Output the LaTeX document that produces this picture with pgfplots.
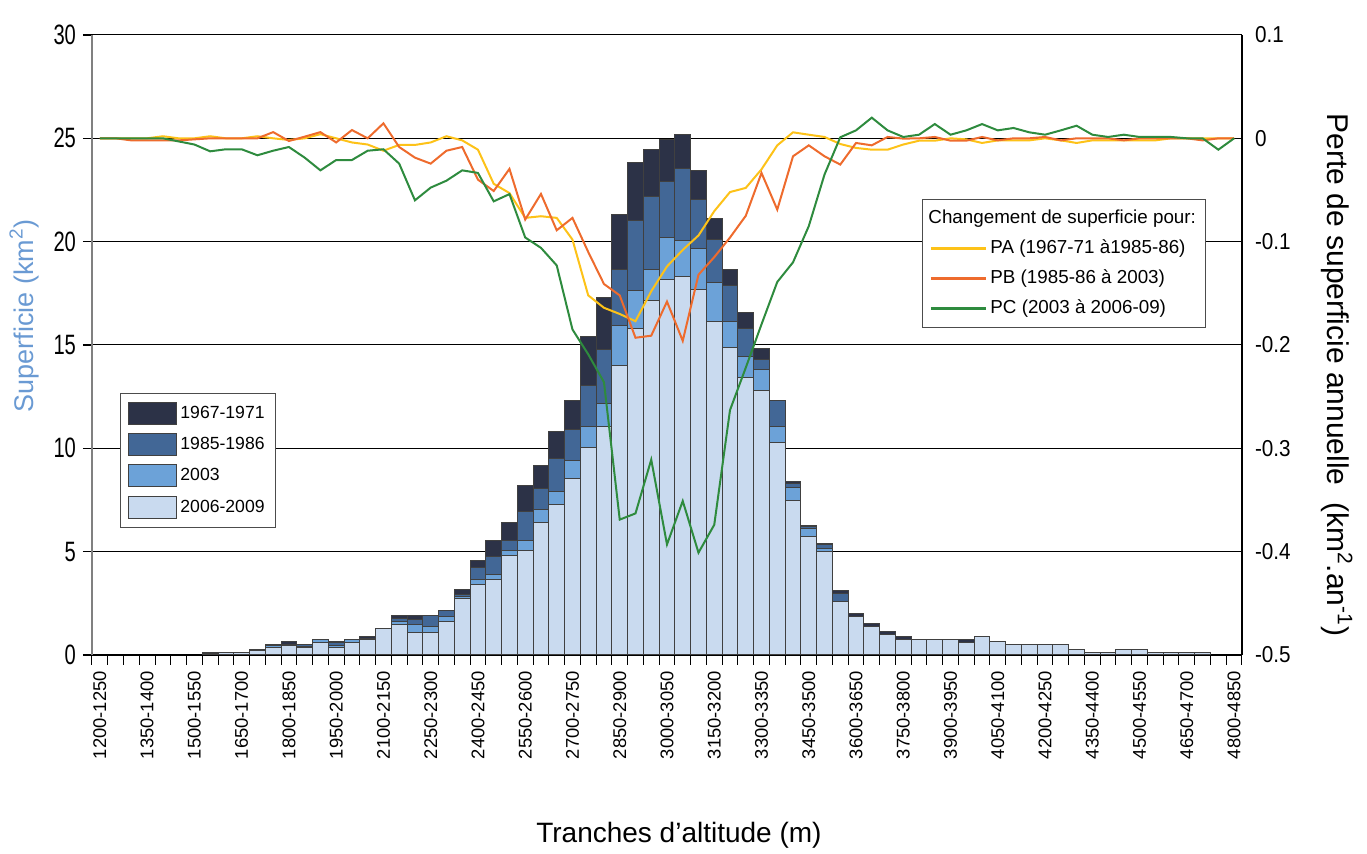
\documentclass[border=0pt]{standalone}
\usepackage{pgfplots}
\pgfplotsset{compat=1.18}
\usepackage{pgfplotstable}
\usepackage{fontspec}
\setmainfont{Liberation Sans}
\newfontfamily\condfont[FakeStretch=0.72]{Liberation Sans}
\newfontfamily\rcondfont[FakeStretch=0.9]{Liberation Sans}
\definecolor{cA}{HTML}{2C3247}
\definecolor{cB}{HTML}{426796}
\definecolor{cC}{HTML}{6CA2D8}
\definecolor{cD}{HTML}{C9DAEF}
\definecolor{lPA}{HTML}{FDC218}
\definecolor{lPB}{HTML}{EE6B2D}
\definecolor{lPC}{HTML}{2E8B3E}
\definecolor{labblue}{HTML}{6A9AD3}

\pgfplotstableread{
x a b c d
7 0.12 0.12 0.07 0.05
8 0.12 0.12 0.12 0.10
9 0.12 0.12 0.12 0.12
10 0.27 0.27 0.27 0.23
11 0.50 0.50 0.45 0.35
12 0.63 0.50 0.48 0.48
13 0.52 0.52 0.40 0.35
14 0.77 0.77 0.77 0.61
15 0.65 0.60 0.48 0.37
16 0.77 0.77 0.77 0.61
17 0.89 0.79 0.74 0.74
18 1.27 1.27 1.27 1.27
19 1.89 1.77 1.61 1.48
20 1.89 1.73 1.48 1.11
21 1.89 1.89 1.39 1.11
22 2.16 2.16 1.87 1.61
23 3.15 2.95 2.85 2.74
24 4.55 4.25 3.65 3.40
25 5.55 4.77 3.90 3.65
26 6.43 5.53 5.05 4.80
27 8.19 6.92 5.55 5.05
28 9.18 8.05 7.05 6.43
29 10.80 9.53 7.92 7.30
30 12.30 10.92 9.42 8.55
31 15.43 13.03 11.05 10.05
32 17.30 14.78 12.16 11.05
33 21.32 18.66 15.92 14.03
34 23.82 21.04 17.66 15.80
35 24.45 22.18 18.67 17.17
36 24.95 22.93 20.19 18.17
37 25.20 23.53 20.05 18.30
38 23.43 22.05 19.67 17.69
39 21.10 20.10 18.00 16.15
40 18.67 17.90 16.14 14.90
41 16.56 15.80 14.43 13.43
42 14.82 14.30 13.79 12.79
43 12.30 12.30 11.05 10.30
44 8.40 8.30 8.10 7.48
45 6.26 6.20 6.10 5.74
46 5.40 5.35 5.13 5.03
47 3.13 2.98 2.61 2.61
48 2.00 1.85 1.85 1.85
49 1.52 1.37 1.37 1.37
50 1.13 1.00 1.00 1.00
51 0.89 0.74 0.74 0.74
52 0.74 0.74 0.74 0.74
53 0.74 0.74 0.74 0.74
54 0.74 0.74 0.74 0.74
55 0.76 0.61 0.61 0.61
56 0.89 0.89 0.89 0.89
57 0.63 0.63 0.63 0.63
58 0.52 0.52 0.52 0.52
59 0.52 0.52 0.52 0.52
60 0.52 0.52 0.52 0.52
61 0.52 0.52 0.52 0.52
62 0.26 0.26 0.26 0.26
63 0.11 0.11 0.11 0.11
64 0.11 0.11 0.11 0.11
65 0.26 0.26 0.26 0.26
66 0.26 0.26 0.26 0.26
67 0.11 0.11 0.11 0.11
68 0.11 0.11 0.11 0.11
69 0.11 0.11 0.11 0.11
70 0.11 0.11 0.11 0.11
}\bartable

\pgfplotstableread{
x pa pb pc
0 0 0 0
1 0 0 0
2 0 -0.002 0
3 0 -0.002 0
4 0.002 -0.002 0
5 0 -0.002 -0.003
6 0 -0.001 -0.006
7 0.002 0 -0.0126
8 0 0 -0.0106
9 0 0 -0.0106
10 0.002 0 -0.0164
11 0 0.006 -0.012
12 -0.0016 -0.0026 -0.0084
13 0 0.0016 -0.0187
14 0.004 0.006 -0.031
15 0 -0.004 -0.021
16 -0.004 0.008 -0.021
17 -0.006 0 -0.012
18 -0.012 0.0145 -0.0106
19 -0.0064 -0.0084 -0.0245
20 -0.0064 -0.0187 -0.06
21 -0.004 -0.0245 -0.0477
22 0.002 -0.012 -0.041
23 -0.002 -0.0084 -0.031
24 -0.011 -0.040 -0.0335
25 -0.044 -0.051 -0.061
26 -0.053 -0.0296 -0.054
27 -0.077 -0.0786 -0.096
28 -0.0754 -0.0538 -0.106
29 -0.077 -0.089 -0.123
30 -0.098 -0.077 -0.185
31 -0.152 -0.11 -0.209
32 -0.164 -0.141 -0.236
33 -0.170 -0.152 -0.369
34 -0.177 -0.193 -0.363
35 -0.148 -0.191 -0.311
36 -0.124 -0.158 -0.393
37 -0.108 -0.196 -0.351
38 -0.094 -0.132 -0.401
39 -0.0705 -0.115 -0.374
40 -0.052 -0.096 -0.263
41 -0.048 -0.075 -0.222
42 -0.030 -0.0335 -0.180
43 -0.0068 -0.069 -0.139
44 0.0058 -0.0174 -0.120
45 0.0035 -0.0068 -0.085
46 0.0013 -0.0174 -0.035
47 -0.0055 -0.0254 0.001
48 -0.0093 -0.0045 0.0077
49 -0.011 -0.0068 0.020
50 -0.011 0.0013 0.0077
51 -0.006 -0.0003 0.0013
52 -0.0023 0 0.0035
53 -0.0023 0.0013 0.0138
54 0 -0.0023 0.0035
55 -0.001 -0.0023 0.0077
56 -0.0045 0.0013 0.0138
57 -0.002 -0.002 0.0077
58 -0.002 0 0.010
59 -0.002 0 0.0058
60 0 0.0013 0.0035
61 -0.002 -0.002 0.0077
62 -0.0045 0 0.0122
63 -0.002 0 0.0035
64 -0.002 0 0.0013
65 -0.002 -0.002 0.0035
66 -0.002 0 0.0013
67 -0.002 0 0.0013
68 0 0 0.0013
69 0 0 0
70 0 -0.002 0
71 0 0 -0.011
72 0 0 0
}\chgtable

\begin{document}
\begin{tikzpicture}
\useasboundingbox (0,0) rectangle (683.5pt,427pt);
\begin{axis}[
  at={(46pt,99.5pt)}, anchor=south west,
  scale only axis, width=575pt, height=310pt,
  xmin=-0.5, xmax=72.5, ymin=0, ymax=30,
  axis x line*=bottom, axis y line*=left,
  x axis line style={black, line width=0.6pt},
  y axis line style={black!50, line width=1pt},
  ytick={0,5,10,15,20,25,30},
  yticklabels={0,5,10,15,20,25,30},
  yticklabel style={font=\condfont\fontsize{14}{14}\selectfont},
  ymajorgrids, grid style={black, line width=0.5pt},
  xtick={0,3,...,72},
  xticklabels={1200-1250,1350-1400,1500-1550,1650-1700,1800-1850,1950-2000,2100-2150,2250-2300,2400-2450,2550-2600,2700-2750,2850-2900,3000-3050,3150-3200,3300-3350,3450-3500,3600-3650,3750-3800,3900-3950,4050-4100,4200-4250,4350-4400,4500-4550,4650-4700,4800-4850},
  xticklabel style={rotate=90, anchor=east, font=\fontsize{9.2}{10}\selectfont},
  minor xtick={-0.5,0.5,...,72.5},
  tick align=outside,
  major tick length=4.5pt, minor tick length=5pt,
  major x tick style={draw=none},
  minor x tick style={black, line width=0.5pt},
  major y tick style={black, line width=0.6pt},
  xlabel={Tranches d’altitude (m)},
  every axis x label/.style={at={(axis description cs:0.5104,-0.29)}, anchor=center, font=\fontsize{14}{16}\selectfont},
  ylabel={Superficie (km\textsuperscript{2})},
  every axis y label/.style={at={(axis description cs:-0.0591,0.5468)}, rotate=90, anchor=center, font=\fontsize{13.5}{15}\selectfont, text=labblue},
  legend style={at={(axis description cs:0.0243,0.4226)}, anchor=north west,
    draw=black!70, line width=0.5pt, fill=white,
    font=\fontsize{8.8}{10}\selectfont, inner sep=4pt, row sep=3.6pt,
    nodes={inner sep=1.5pt, text height=7pt, text depth=2pt}},
  legend cell align=left,
  legend image code/.code={\draw[#1] (0pt,-5.5pt) rectangle (24pt,5.5pt);},
]
\addplot[ybar, bar width=1, bar shift=0pt, fill=cA, draw=black!75, line width=0.5pt] table[x=x,y=a]{\bartable};
\addlegendentry{1967-1971}
\addplot[ybar, bar width=1, bar shift=0pt, fill=cB, draw=black!75, line width=0.5pt] table[x=x,y=b]{\bartable};
\addlegendentry{1985-1986}
\addplot[ybar, bar width=1, bar shift=0pt, fill=cC, draw=black!75, line width=0.5pt] table[x=x,y=c]{\bartable};
\addlegendentry{2003}
\addplot[ybar, bar width=1, bar shift=0pt, fill=cD, draw=black!75, line width=0.5pt] table[x=x,y=d]{\bartable};
\addlegendentry{2006-2009}
\end{axis}
\begin{axis}[
  at={(46pt,99.5pt)}, anchor=south west,
  scale only axis, width=575pt, height=310pt,
  xmin=-0.5, xmax=72.5, ymin=-0.5, ymax=0.1,
  axis x line=none, axis y line*=right,
  y axis line style={black, line width=0.6pt},
  ytick={-0.5,-0.4,-0.3,-0.2,-0.1,0,0.1},
  yticklabels={-0.5,-0.4,-0.3,-0.2,-0.1,0,0.1},
  major tick length=0pt,
  yticklabel style={anchor=west, xshift=3pt, font=\rcondfont\fontsize{11.5}{12}\selectfont},
  ylabel={Perte de superficie annuelle\ \ (km\textsuperscript{2}.an\textsuperscript{-1})},
  every axis y label/.style={at={(axis description cs:1.0826,0.4516)}, rotate=-90, anchor=center, font=\fontsize{15}{17}\selectfont},
  legend style={at={(axis description cs:0.7217,0.735)}, anchor=north west,
    draw=black!70, line width=0.5pt, fill=white,
    font=\fontsize{9.4}{10}\selectfont, inner sep=3.5pt, row sep=3pt,
    nodes={inner sep=1.5pt, text height=7pt, text depth=2pt}},
  legend cell align=left,
  legend image code/.code={\draw[#1, line width=1.5pt] (0pt,0pt) -- (27.5pt,0pt);},
]
\addlegendimage{empty legend}
\addlegendentry{\hspace*{-31pt}Changement de superficie pour:}
\addplot[lPA, line width=1pt, mark=none] table[x=x,y=pa]{\chgtable};
\addlegendentry{PA (1967-71 à1985-86)}
\addplot[lPB, line width=1pt, mark=none] table[x=x,y=pb]{\chgtable};
\addlegendentry{PB (1985-86 à 2003)}
\addplot[lPC, line width=1pt, mark=none] table[x=x,y=pc]{\chgtable};
\addlegendentry{PC (2003 à 2006-09)}
\end{axis}
\end{tikzpicture}
\end{document}
